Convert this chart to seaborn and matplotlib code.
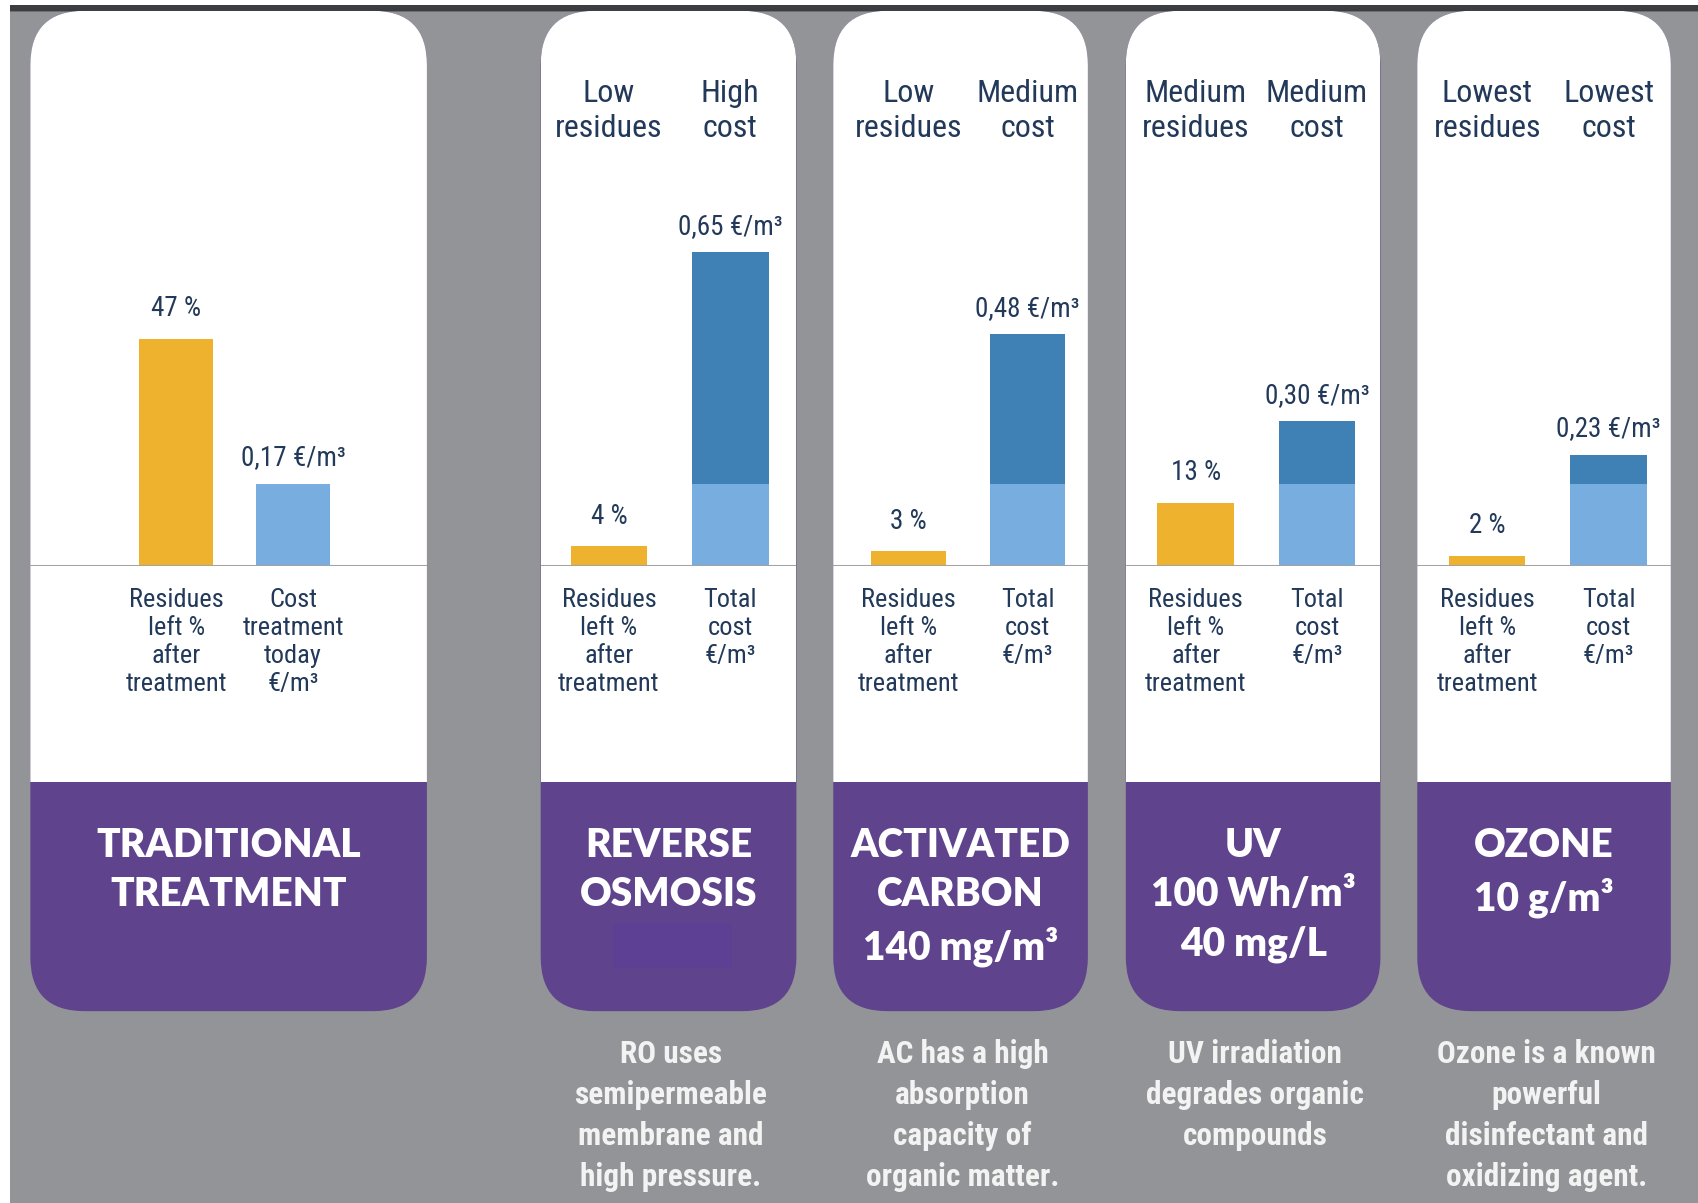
import matplotlib
matplotlib.use("Agg")
import matplotlib.pyplot as plt
import matplotlib.transforms as mtransforms
from matplotlib.patches import FancyBboxPatch, Rectangle
import seaborn as sns

# ---------------------------------------------------------------------
# Data
# ---------------------------------------------------------------------
methods = ["TRADITIONAL\nTREATMENT", "REVERSE\nOSMOSIS", "ACTIVATED\nCARBON\n140 mg/m³",
           "UV\n100 Wh/m³\n40 mg/L", "OZONE\n10 g/m³"]
residues_pct = [47, 4, 3, 13, 2]
total_cost = [0.17, 0.65, 0.48, 0.30, 0.23]          # €/m³
today_cost = [0.17, 0.17, 0.17, 0.17, 0.17]          # light part of the cost bar
residue_tags = [None, "Low\nresidues", "Low\nresidues", "Medium\nresidues", "Lowest\nresidues"]
cost_tags = [None, "High\ncost", "Medium\ncost", "Medium\ncost", "Lowest\ncost"]
residue_ticks = ["Residues\nleft %\nafter\ntreatment"] * 5
cost_ticks = ["Cost\ntreatment\ntoday\n€/m³"] + ["Total\ncost\n€/m³"] * 4
descriptions = [None,
                "RO uses\nsemipermeable\nmembrane and\nhigh pressure.",
                "AC has a high\nabsorption\ncapacity of\norganic matter.",
                "UV irradiation\ndegrades organic\ncompounds",
                "Ozone is a known\npowerful\ndisinfectant and\noxidizing agent."]

# ---------------------------------------------------------------------
# Style
# ---------------------------------------------------------------------
BG_GRAY = "#939498"
YELLOW = "#EEB22F"
LIGHT_BLUE = "#78AEDF"
DARK_BLUE = "#3F81B5"
PURPLE = "#5F448D"
NAVY = "#22395A"

sns.set_theme(style="white")
NARROW = ["Liberation Sans Narrow", "Roboto Condensed", "Roboto", "DejaVu Sans"]
HEAVY = ["Lato", "DejaVu Sans"]
plt.rcParams["font.family"] = NARROW

# layout, in reference pixels (1568 x 1110 canvas)
REF_W, REF_H = 1568, 1110
panel_left = [28, 499, 769, 1039, 1308]
panel_right = [394, 735, 1004, 1274, 1542]
bars_mid = [216.5, 618, 893.5, 1159.5, 1428.5]
bar_step = [108, 112, 110, 112, 112]
PANEL_TOP, PURPLE_TOP, PANEL_BOTTOM = 10, 722, 933
BASELINE, AXES_TOP = 522, 77
Y_MAX = 100
BAR_W = 0.63

fig = plt.figure(figsize=(16.99, 12.03), dpi=100)
fig.patch.set_facecolor(BG_GRAY)

# background canvas for panels and decorations
bg = fig.add_axes([0, 0, 1, 1])
bg.set_xlim(0, REF_W)
bg.set_ylim(REF_H, 0)
bg.axis("off")
bg.add_patch(Rectangle((0, 0), REF_W, 11, color="#6E6F73", lw=0))
bg.add_patch(Rectangle((0, 5), REF_W, 5, color="#3C3D41", lw=0))
bg.add_patch(Rectangle((0, 0), REF_W, 5, color="white", lw=0))
bg.add_patch(Rectangle((0, 0), 9, REF_H, color="white", lw=0))

for i in range(len(methods)):
    left, right = panel_left[i], panel_right[i]
    w = right - left
    shape = FancyBboxPatch((left, PANEL_TOP), w, PANEL_BOTTOM - PANEL_TOP,
                           boxstyle="round,pad=0,rounding_size=50",
                           fc=PURPLE, ec="none", zorder=1)
    bg.add_patch(shape)
    white = Rectangle((left, PANEL_TOP), w, PURPLE_TOP - PANEL_TOP, fc="white", ec="none", zorder=2)
    bg.add_patch(white)
    white.set_clip_path(shape)

    bg.text((left + right) / 2, 763, methods[i], ha="center", va="top", color="white",
            fontsize=28, fontweight="heavy", family=HEAVY, linespacing=1.41, zorder=3)
    if descriptions[i]:
        bg.text((left + right) / 2 + 2, 959, descriptions[i], ha="center", va="top",
                color="#F3F3F3", fontsize=22.5, fontweight="bold", linespacing=1.45, zorder=3)

# redaction box under "OSMOSIS"
bg.add_patch(Rectangle((566, 852), 110, 41, fc="#5D3F94", ec="none", zorder=3))

# ---------------------------------------------------------------------
# Bar charts, one axes per panel
# ---------------------------------------------------------------------
cats = ["residues", "cost"]
for i in range(len(methods)):
    left, right = panel_left[i], panel_right[i]
    ax = fig.add_axes([left / REF_W, 1 - BASELINE / REF_H,
                       (right - left) / REF_W, (BASELINE - AXES_TOP) / REF_H])
    ax.patch.set_alpha(0)

    sns.barplot(x=cats, y=[residues_pct[i], total_cost[i] * 100], hue=cats,
                palette=[YELLOW, DARK_BLUE], order=cats, width=BAR_W, saturation=1,
                linewidth=0, legend=False, ax=ax, zorder=3)
    sns.barplot(x=["cost"], y=[today_cost[i] * 100], order=cats, color=LIGHT_BLUE,
                width=BAR_W, saturation=1, linewidth=0, ax=ax, zorder=4)

    lo = 0.5 - (bars_mid[i] - left) / bar_step[i]
    hi = 0.5 + (right - bars_mid[i]) / bar_step[i]
    ax.set_xlim(lo, hi)
    ax.set_ylim(0, Y_MAX)
    ax.axhline(0, color="#A3A3A3", lw=2.2, zorder=5)

    ax.annotate(f"{residues_pct[i]} %", (0, residues_pct[i]), xytext=(0, 12),
                textcoords="offset points", ha="center", va="bottom",
                color=NAVY, fontsize=19.5, annotation_clip=False)
    cost_lbl = f"{total_cost[i]:.2f}".replace(".", ",") + " €/m³"
    ax.annotate(cost_lbl, (1, total_cost[i] * 100), xytext=(0, 9),
                textcoords="offset points", ha="center", va="bottom",
                color=NAVY, fontsize=19.5, annotation_clip=False)

    trans = mtransforms.blended_transform_factory(ax.transData, ax.transAxes)
    for j, tag in enumerate([residue_tags[i], cost_tags[i]]):
        if tag:
            ax.text(j, 0.942, tag, transform=trans, ha="center", va="center",
                    color=NAVY, fontsize=23, linespacing=1.26)

    ax.set_xticks([0, 1])
    ax.set_xticklabels([residue_ticks[i], cost_ticks[i]], fontsize=19, color=NAVY,
                       linespacing=1.22)
    ax.tick_params(axis="x", length=0, pad=16)
    ax.set_yticks([])
    ax.set_xlabel("")
    ax.set_ylabel("")
    sns.despine(ax=ax, left=True, bottom=True)

fig.savefig("out.png", dpi=100, facecolor=fig.get_facecolor())
